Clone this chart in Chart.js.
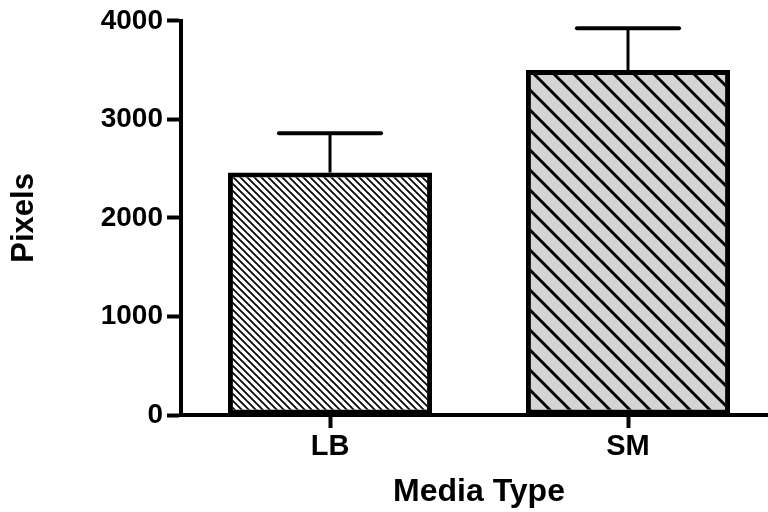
<!DOCTYPE html>
<html>
<head>
<meta charset="utf-8">
<script src="https://cdn.jsdelivr.net/npm/chart.js@4/dist/chart.umd.min.js"></script>
<style>
html,body{margin:0;padding:0;background:#fff;}
canvas{display:block;}
</style>
</head>
<body>
<canvas id="c" width="768" height="512"></canvas>
<script>
const categories = ["LB", "SM"];
const meanValues = [2460, 3500];
const errorValues = [400, 425];
const yTicks = [0, 1000, 2000, 3000, 4000];

function hatch(bg, spacing, lw) {
  const t = document.createElement('canvas');
  t.width = spacing; t.height = spacing;
  const g = t.getContext('2d');
  g.fillStyle = bg; g.fillRect(0, 0, spacing, spacing);
  g.strokeStyle = '#000'; g.lineWidth = lw;
  for (let k = -1; k <= 1; k++) {
    g.beginPath();
    g.moveTo(k * spacing - 1, -1);
    g.lineTo(k * spacing + spacing + 1, spacing + 1);
    g.stroke();
  }
  return document.getElementById('c').getContext('2d').createPattern(t, 'repeat');
}

const fills = [hatch('#ffffff', 7, 1.7), hatch('#d4d4d4', 20, 3)];

// The category axis in the reference runs past the right edge of the canvas
const extendX = {
  id: 'extendX',
  afterLayout(chart) {
    const x = chart.scales.x;
    x.right = x.left + 596;
    x.width = 596;
    x.configure();
  }
};

const errorBars = {
  id: 'errorBars',
  afterDatasetsDraw(chart) {
    const ctx = chart.ctx;
    const meta = chart.getDatasetMeta(0);
    const ys = chart.scales.y;
    ctx.save();
    ctx.strokeStyle = '#000';
    meta.data.forEach((bar, i) => {
      const top = ys.getPixelForValue(meanValues[i] + errorValues[i]);
      const w = bar.width;
      ctx.lineWidth = 3;
      ctx.lineCap = 'butt';
      ctx.beginPath();
      ctx.moveTo(bar.x, bar.y);
      ctx.lineTo(bar.x, top);
      ctx.stroke();
      ctx.lineWidth = 4;
      ctx.lineCap = 'round';
      ctx.beginPath();
      ctx.moveTo(bar.x - w / 4, top);
      ctx.lineTo(bar.x + w / 4, top);
      ctx.stroke();
    });
    ctx.restore();
  }
};

new Chart(document.getElementById('c'), {
  type: 'bar',
  data: {
    labels: categories,
    datasets: [{
      data: meanValues,
      backgroundColor: fills,
      borderColor: '#000',
      borderWidth: 5,
      borderSkipped: false,
      barPercentage: 0.685,
      categoryPercentage: 1,
      clip: false
    }]
  },
  options: {
    responsive: false,
    animation: false,
    layout: { padding: { top: 20, right: 11, left: 0, bottom: 0 } },
    plugins: { legend: { display: false }, tooltip: { enabled: false } },
    scales: {
      x: {
        offset: true,
        grid: { display: true, drawOnChartArea: false, drawTicks: true, tickLength: 13, tickWidth: 4, tickColor: '#000', offset: false },
        border: { display: true, color: '#000', width: 4 },
        ticks: { color: '#000', padding: 2, font: { family: 'Liberation Sans', size: 29, weight: 'bold' } },
        title: { display: true, text: 'Media Type', color: '#000', padding: { top: 0, bottom: 1 }, font: { family: 'Liberation Sans', size: 32, weight: 'bold' } },
        afterFit(scale) { scale.height = 97; }
      },
      y: {
        min: 0, max: 4000,
        afterBuildTicks(scale) { scale.ticks = yTicks.map(v => ({ value: v })); },
        grid: { display: true, drawOnChartArea: false, drawTicks: true, tickLength: 14, tickWidth: 4, tickColor: '#000' },
        border: { display: true, color: '#000', width: 4 },
        ticks: { color: '#000', padding: 4, font: { family: 'Liberation Sans', size: 28, weight: 'bold' }, callback: (v) => String(v) },
        title: { display: true, text: 'Pixels', color: '#000', padding: { top: 6, bottom: 0 }, font: { family: 'Liberation Sans', size: 31, weight: 'bold' } },
        afterFit(scale) { scale.width = 181; }
      }
    }
  },
  plugins: [extendX, errorBars]
});
</script>
</body>
</html>
